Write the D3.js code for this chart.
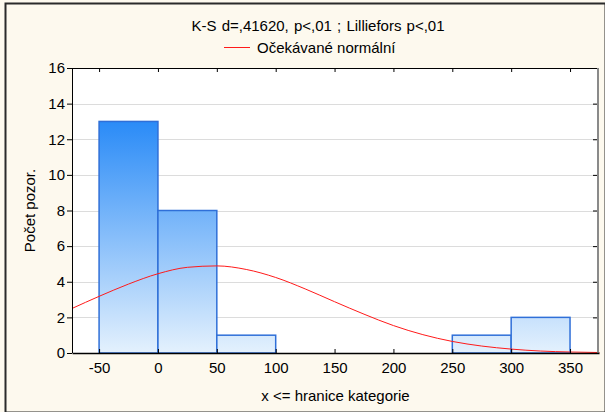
<!DOCTYPE html>
<html>
<head>
<meta charset="utf-8">
<script src="https://cdn.jsdelivr.net/npm/d3@7"></script>
<style>
  html, body { margin: 0; padding: 0; background: #fdf9ee; }
  svg { display: block; font-family: "Liberation Sans", Arial, sans-serif; }
</style>
</head>
<body>
<div id="chart"></div>
<script>
// histogram bins (upper bounds) and observed counts
var binStarts = [-50, 0, 50, 100, 150, 200, 250, 300];
var binEnds   = [0, 50, 100, 150, 200, 250, 300, 350];
var counts    = [13, 8, 1, 0, 0, 0, 1, 2];

// expected normal curve
var curveX = [-73, -50, -25, 0, 25, 50, 75, 100, 125, 150, 175, 200, 225, 250, 275, 300, 325, 350, 375];
var curveY = [2.5, 3.18, 3.87, 4.45, 4.81, 4.89, 4.69, 4.24, 3.6, 2.88, 2.18, 1.54, 1.03, 0.65, 0.39, 0.22, 0.11, 0.056, 0.027];

var xTicks = [-50, 0, 50, 100, 150, 200, 250, 300, 350];
var yTicks = [0, 2, 4, 6, 8, 10, 12, 14, 16];

var titleText = 'K-S d=,41620, p<,01 ; Lilliefors p<,01';
var legendText = 'Očekávané normální';
var xLabel = 'x <= hranice kategorie';
var yLabel = 'Počet pozor.';

var W = 605, H = 412;
var margin = { top: 68, right: 6, bottom: 59, left: 72 };
var width = W - margin.left - margin.right;
var height = H - margin.top - margin.bottom;

var svg = d3.select('#chart').append('svg')
  .attr('width', W).attr('height', H);

// outer frame
svg.append('rect')
  .attr('x', 5.5).attr('y', 3.5)
  .attr('width', W - 5).attr('height', H - 3)
  .attr('fill', '#fdf9ee')
  .attr('stroke', '#2a2a2a').attr('stroke-width', 2);

var x = d3.scaleLinear().domain([-73, 374.6]).range([0, width]);
var y = d3.scaleLinear().domain([0, 16]).range([height, 0]);

var g = svg.append('g')
  .attr('transform', 'translate(' + margin.left + ',' + margin.top + ')');

var defs = svg.append('defs');
var grad = defs.append('linearGradient')
  .attr('id', 'bar-grad')
  .attr('gradientUnits', 'userSpaceOnUse')
  .attr('x1', 0).attr('x2', 0)
  .attr('y1', y(13)).attr('y2', y(0));
grad.append('stop').attr('offset', '0%').attr('stop-color', '#2a8bf7');
grad.append('stop').attr('offset', '100%').attr('stop-color', '#e4f1fd');

// plot background
g.append('rect')
  .attr('width', width).attr('height', height)
  .attr('fill', '#ffffff');

// horizontal grid
g.selectAll('.grid')
  .data(yTicks.filter(function(d) { return d > 0 && d < 16; }))
  .enter().append('line')
  .attr('x1', 0).attr('x2', width)
  .attr('y1', function(d) { return Math.round(y(d)) + 0.5; })
  .attr('y2', function(d) { return Math.round(y(d)) + 0.5; })
  .attr('stroke', '#dcdcdc').attr('stroke-width', 1);

// bars
var bins = binStarts.map(function(s, i) { return { x0: s, x1: binEnds[i], n: counts[i] }; });
g.selectAll('.bar')
  .data(bins)
  .enter().append('rect')
  .attr('x', function(d) { return x(d.x0); })
  .attr('y', function(d) { return y(d.n); })
  .attr('width', function(d) { return x(d.x1) - x(d.x0); })
  .attr('height', function(d) { return y(0) - y(d.n); })
  .attr('fill', 'url(#bar-grad)')
  .attr('stroke', '#2f6fd8')
  .attr('stroke-width', 1.5);

// expected normal curve
var pts = curveX.map(function(v, i) { return [v, curveY[i]]; });
g.append('path')
  .datum(pts)
  .attr('d', d3.line()
    .x(function(d) { return x(d[0]); })
    .y(function(d) { return y(d[1]); })
    .curve(d3.curveMonotoneX))
  .attr('fill', 'none')
  .attr('stroke', '#ff1a1a')
  .attr('stroke-width', 1);

// plot border: black left/top/bottom, grey right
g.append('line').attr('x1', 0.5).attr('x2', 0.5).attr('y1', 0).attr('y2', height)
  .attr('stroke', '#000');
g.append('line').attr('x1', 0).attr('x2', width).attr('y1', 0.5).attr('y2', 0.5)
  .attr('stroke', '#000');
g.append('line').attr('x1', width - 1).attr('x2', width - 1).attr('y1', 0).attr('y2', height)
  .attr('stroke', '#8a8a8a').attr('stroke-width', 2);

// bottom axis (ticks inward), plain hyphen for negatives
var xAxis = g.append('g')
  .attr('transform', 'translate(0,' + height + ')')
  .call(d3.axisBottom(x).tickValues(xTicks).tickFormat(String)
    .tickSize(-4).tickPadding(9).tickSizeOuter(0));
xAxis.select('.domain').attr('stroke', '#000').attr('stroke-width', 1.5);
xAxis.selectAll('text').attr('fill', '#000').style('font-size', '15px');

// top axis ticks
var xTop = g.append('g')
  .call(d3.axisTop(x).tickValues(xTicks).tickSize(-4).tickFormat('').tickSizeOuter(0));
xTop.select('.domain').remove();

// left axis (ticks outward)
var yAxis = g.append('g')
  .call(d3.axisLeft(y).tickValues(yTicks).tickSize(5).tickPadding(2).tickSizeOuter(0));
yAxis.select('.domain').remove();
yAxis.selectAll('text').attr('fill', '#000').style('font-size', '15px');

// right axis ticks inward
var yRight = g.append('g')
  .attr('transform', 'translate(' + (width - 2) + ',0)')
  .call(d3.axisRight(y).tickValues(yTicks).tickSize(-4).tickFormat('').tickSizeOuter(0));
yRight.select('.domain').remove();

// title and legend
svg.append('text')
  .attr('x', 318).attr('y', 31)
  .attr('text-anchor', 'middle')
  .style('font-size', '15px')
  .style('word-spacing', '1px')
  .text(titleText);
svg.append('line')
  .attr('x1', 224).attr('x2', 250).attr('y1', 47.5).attr('y2', 47.5)
  .attr('stroke', '#ff1a1a').attr('stroke-width', 1);
svg.append('text')
  .attr('x', 257).attr('y', 53)
  .style('font-size', '15px')
  .text(legendText);

// axis labels
svg.append('text')
  .attr('x', margin.left + width / 2).attr('y', 401)
  .attr('text-anchor', 'middle')
  .style('font-size', '15px')
  .text(xLabel);
svg.append('text')
  .attr('transform', 'translate(35,' + (margin.top + height / 2) + ') rotate(-90)')
  .attr('text-anchor', 'middle')
  .style('font-size', '15px')
  .text(yLabel);
</script>
</body>
</html>
